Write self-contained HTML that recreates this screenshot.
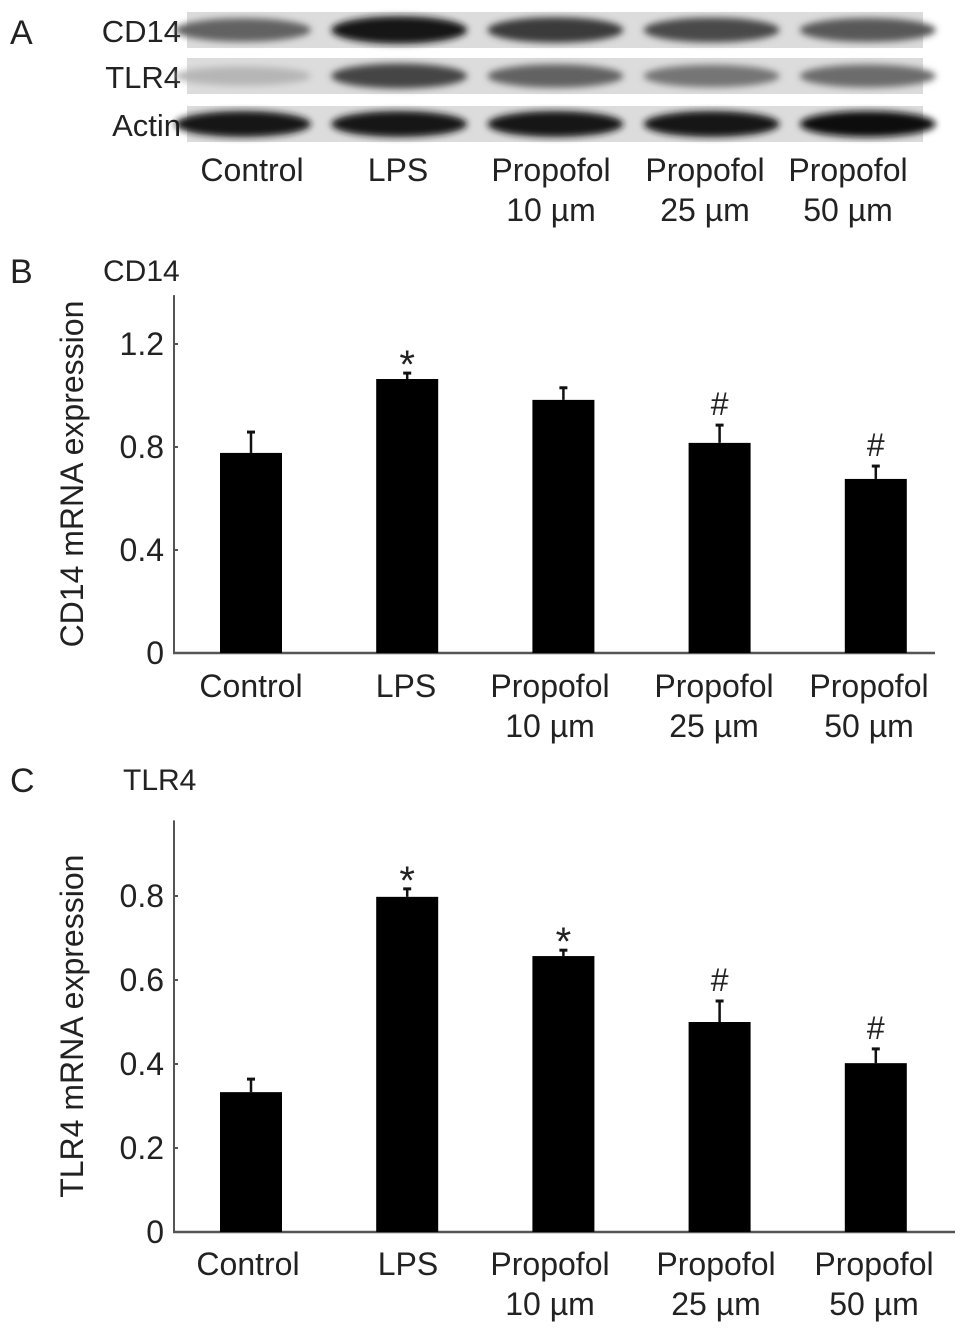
<!DOCTYPE html>
<html><head><meta charset="utf-8"><style>
html,body{margin:0;padding:0;background:#fff;}
svg{display:block;font-family:"Liberation Sans",Arial,sans-serif;}
text{fill:#222;}
</style></head><body>
<svg id="fig" width="969" height="1335" viewBox="0 0 969 1335">
<defs>
<filter id="blur" x="-20%" y="-50%" width="140%" height="200%"><feGaussianBlur stdDeviation="3.5"/></filter>
</defs>
<g id="panelA">
<text x="10" y="44" font-size="34">A</text>
</g>
<g id="panelB"></g>
<g id="panelC"></g>
</svg>
<script>
const groups = ["Control","LPS","Propofol|10 µm","Propofol|25 µm","Propofol|50 µm"];
const blotRows = ["CD14","TLR4","Actin"];
const cd14Intensity = [0.55,0.95,0.75,0.68,0.6];
const tlr4Intensity = [0.12,0.7,0.55,0.45,0.5];
const actinIntensity = [0.95,0.95,0.95,0.95,0.97];
const cd14Values = [0.777,1.064,0.983,0.816,0.676];
const cd14Errors = [0.081,0.023,0.047,0.069,0.05];
const cd14Marks = ["","*","","#","#"];
const cd14Ticks = [0,0.4,0.8,1.2];
const tlr4Values = [0.333,0.798,0.657,0.5,0.402];
const tlr4Errors = [0.031,0.019,0.014,0.05,0.034];
const tlr4Marks = ["","*","*","#","#"];
const tlr4Ticks = [0,0.2,0.4,0.6,0.8];

const NS="http://www.w3.org/2000/svg";
function mk(tag, attrs, parent, txt){
  const e=document.createElementNS(NS,tag);
  for(const k in attrs) e.setAttribute(k,attrs[k]);
  if(txt!==undefined) e.textContent=txt;
  parent.appendChild(e); return e;
}
const xCenter = i => 251 + i*156.2;
const FS=32;

const gA=document.getElementById('panelA');
const rowY=[12,58,106];
const rowData=[cd14Intensity,tlr4Intensity,actinIntensity];
blotRows.forEach((name,r)=>{
  const y0=rowY[r];
  const bg=mk('rect',{x:187,y:y0,width:736,height:36,fill:'#dcdcdc'},gA);
  
  
  const lab=mk('text',{x:181,y:y0+30,'font-size':31,'text-anchor':'end'},gA,name);
  
  
  rowData[r].forEach((v,i)=>{
    const c=Math.round(205-v*195);
    const band=mk('ellipse',{cx:xCenter(i)-8,cy:y0+18,rx:68,ry:r==2?13:9+v*5,fill:`rgb(${c},${c},${c})`,filter:'url(#blur)'},gA);
    
    
  });
});
const blotLabelX=[252,398,551,705,848];
groups.forEach((g,i)=>{
  g.split('|').forEach((p,j)=>{
    const t=mk('text',{x:blotLabelX[i],y:181+j*40,'font-size':FS,'text-anchor':'middle'},gA,p);
    
    
  });
});

function chart(g, letter, title, ylabel, vals, errs, marks, ticks, base, axisTopVal, pxPerUnit, axisEnd, labelY, letterY, labelX){
  const yS=v=>base - v*pxPerUnit;
  const L=mk('text',{x:10,y:letterY,'font-size':34},g,letter);
  
  
  const T=mk('text',{x:title=='CD14'?103:123,y:letterY-2,'font-size':30},g,title);
  
  
  const ax=mk('line',{x1:174,y1:yS(axisTopVal),x2:174,y2:base,stroke:'#555','stroke-width':2},g);
  
  
  const bx=mk('line',{x1:173,y1:base,x2:axisEnd,y2:base,stroke:'#555','stroke-width':2.5},g);
  
  
  ticks.forEach(t=>{
    const tk=mk('line',{x1:174,y1:yS(t),x2:178,y2:yS(t),stroke:'#555','stroke-width':2},g);
    
    
    const tl=mk('text',{x:164,y:yS(t)+11,'font-size':FS,'text-anchor':'end'},g,String(t));
    
    
  });
  const yl=mk('text',{x:0,y:0,'font-size':FS,'text-anchor':'middle',transform:`translate(83,${(base+yS(axisTopVal))/2}) rotate(-90)`},g,ylabel);
  
  
  vals.forEach((v,i)=>{
    const cx=xCenter(i);
    const eb=mk('line',{x1:cx,y1:yS(v),x2:cx,y2:yS(v+errs[i]),stroke:'#111','stroke-width':2.5},g);
    
    
    const cap=mk('line',{x1:cx-4,y1:yS(v+errs[i]),x2:cx+4,y2:yS(v+errs[i]),stroke:'#111','stroke-width':3},g);
    
    
    const b=mk('rect',{x:cx-31,y:yS(v),width:62,height:base-yS(v),fill:'#000'},g);
    
    
    if(marks[i]){
      const star=marks[i]=='*';
      const m=mk('text',{x:cx,y:yS(v+errs[i])+(star?5:-10),'font-size':star?40:32,'text-anchor':'middle'},g,marks[i]);
      
      
    }
    groups[i].split('|').forEach((p,j)=>{
      const t=mk('text',{x:labelX[i],y:labelY+j*40,'font-size':FS,'text-anchor':'middle'},g,p);
      
      
    });
  });
}
chart(document.getElementById('panelB'),'B','CD14','CD14 mRNA expression',cd14Values,cd14Errors,cd14Marks,cd14Ticks,653,1.39,257.5,935,697,283,[251,406,550,714,869]);
chart(document.getElementById('panelC'),'C','TLR4','TLR4 mRNA expression',tlr4Values,tlr4Errors,tlr4Marks,tlr4Ticks,1232,0.98,420,955,1275,792,[248,408,550,716,874]);
</script>
</body></html>
